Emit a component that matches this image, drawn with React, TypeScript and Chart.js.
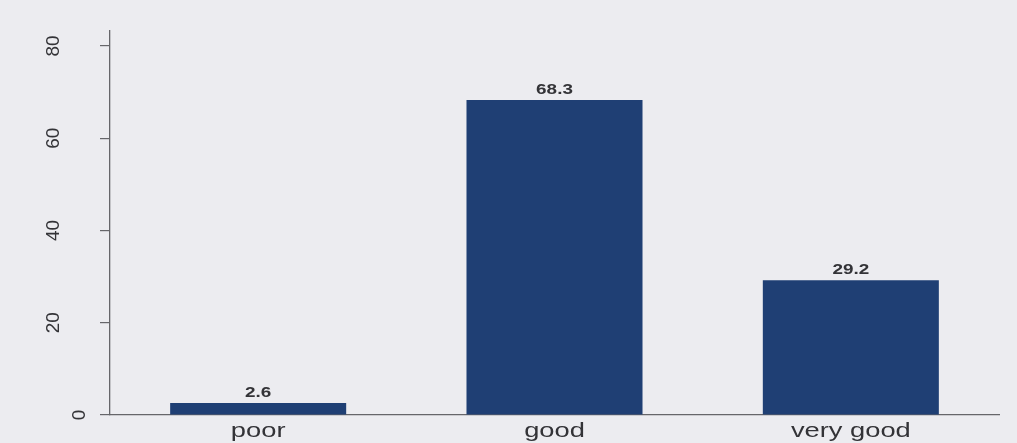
import { useEffect, useRef } from 'react';
import { Chart, registerables } from 'chart.js';

Chart.register(...registerables);

const categories = ['poor', 'good', 'very good'];
const percentages = [2.6, 68.3, 29.2];
const valueLabels = ['2.6', '68.3', '29.2'];
const yTicks = [0, 20, 40, 60, 80];
const yMax = 83.25;

const BG = '#ececf0';
const BAR = '#1f3f74';
const AXIS = '#66666a';
const TEXT = '#333337';

export default function App() {
  const ref = useRef<HTMLCanvasElement>(null);

  useEffect(() => {
    document.body.style.margin = '0';
    document.body.style.background = BG;
    const canvas = ref.current;
    if (!canvas) return;

    const labelPlugin = {
      id: 'customLabels',
      beforeDraw(chart: any) {
        const ctx = chart.ctx;
        ctx.save();
        ctx.fillStyle = BG;
        ctx.fillRect(0, 0, chart.width, chart.height);
        ctx.restore();
      },
      afterDraw(chart: any) {
        const ctx = chart.ctx;
        const ys = chart.scales.y;
        const xs = chart.scales.x;
        ctx.save();
        ctx.fillStyle = TEXT;
        // y tick labels, rotated
        ctx.font = '19px "Liberation Sans"';
        ctx.textAlign = 'center';
        ctx.textBaseline = 'middle';
        ys.ticks.forEach((t: any) => {
          const py = ys.getPixelForValue(t.value);
          ctx.save();
          // the zero label sits closer to the axis in the original
          ctx.translate(t.value === 0 ? 80 : 54, py);
          ctx.rotate(-Math.PI / 2);
          ctx.fillText(String(t.value), 0, 0);
          ctx.restore();
        });
        // category labels
        ctx.font = '21px "Liberation Sans"';
        ctx.textBaseline = 'alphabetic';
        categories.forEach((c, i) => {
          ctx.save();
          ctx.translate(xs.getPixelForValue(i), 437);
          ctx.scale(1.3, 1);
          ctx.fillText(c, 0, 0);
          ctx.restore();
        });
        // value labels
        const meta = chart.getDatasetMeta(0);
        ctx.font = 'bold 14px "Liberation Sans"';
        ctx.textBaseline = 'middle';
        meta.data.forEach((bar: any, i: number) => {
          ctx.save();
          ctx.translate(bar.x, bar.y - 10);
          ctx.scale(1.35, 1);
          ctx.fillText(valueLabels[i], 0, 0);
          ctx.restore();
        });
        ctx.restore();
      },
    };

    const chart = new Chart(canvas, {
      type: 'bar',
      data: {
        labels: categories,
        datasets: [
          {
            data: percentages,
            backgroundColor: BAR,
            borderWidth: 0,
            barPercentage: 0.594,
            categoryPercentage: 1,
          },
        ],
      },
      options: {
        responsive: false,
        animation: false,
        events: [],
        layout: { padding: { top: 31, right: 18, left: 0, bottom: 0 } },
        plugins: { legend: { display: false }, tooltip: { enabled: false } },
        scales: {
          x: {
            type: 'category',
            offset: true,
            ticks: { display: false },
            grid: { display: false },
            border: { display: true, color: AXIS, width: 1.3 },
            afterFit: (s: any) => {
              s.height = 28;
            },
          },
          y: {
            min: 0,
            max: yMax,
            afterBuildTicks: (s: any) => {
              s.ticks = yTicks.map((v) => ({ value: v }));
            },
            afterFit: (s: any) => {
              s.width = 110;
            },
            ticks: { display: false },
            grid: {
              display: true,
              drawOnChartArea: false,
              drawTicks: true,
              tickLength: 10,
              color: AXIS,
              lineWidth: 1.2,
            },
            border: { display: true, color: AXIS, width: 1.3 },
          },
        },
      },
      plugins: [labelPlugin],
    });

    return () => chart.destroy();
  }, []);

  return <canvas ref={ref} width={1017} height={443} style={{ display: 'block' }} />;
}
